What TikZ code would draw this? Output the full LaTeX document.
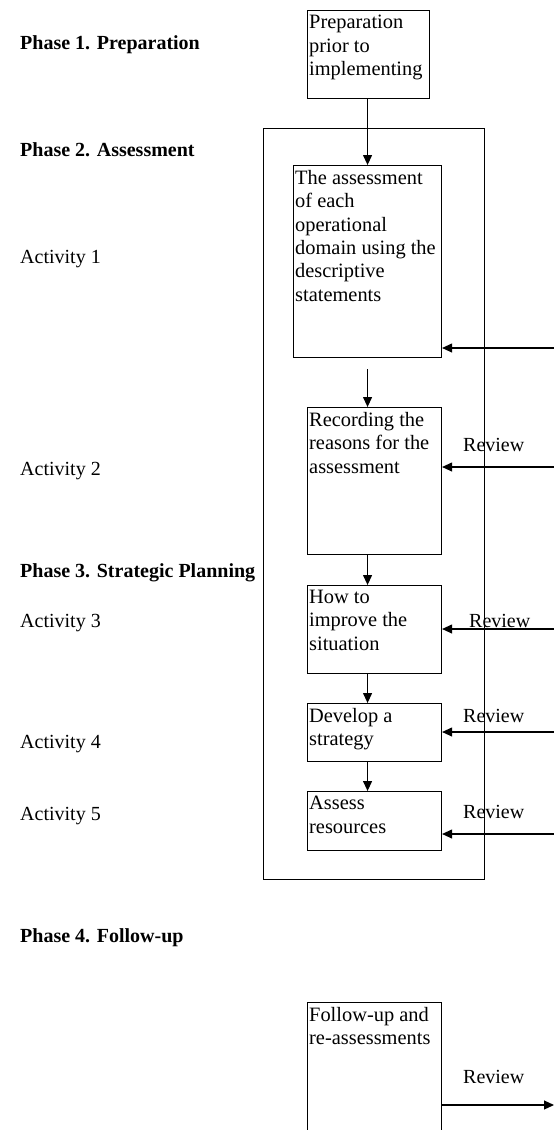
\documentclass[tikz,border=0pt]{standalone}
\usepackage{fontspec}
\setmainfont{Liberation Serif}
\usetikzlibrary{arrows.meta}
\begin{document}
\begin{tikzpicture}[x=1pt, y=-1pt,
    box/.style={draw, line width=1.1pt, inner sep=0pt, anchor=north west},
    boxtext/.style={anchor=north west, align=left, inner sep=0pt, font=\fontsize{20.4}{23.4}\selectfont},
    phase/.style={anchor=base west, inner sep=0pt, font=\bfseries\fontsize{20}{23}\selectfont},
    act/.style={anchor=base west, inner sep=0pt, font=\fontsize{20}{23}\selectfont},
    review/.style={anchor=base west, inner sep=0pt, font=\fontsize{20}{23}\selectfont},
    flow/.style={-{Triangle[length=10pt,width=9pt]}, line width=1.1pt}]
  \useasboundingbox (0,0) rectangle (554,1130);
  \clip (0,0) rectangle (554,1130);

  % left column
  \node[phase] (ph1) at (20,49) {Phase 1. Preparation};
  \node[phase] (ph2) at (20,156) {Phase 2. Assessment};
  \node[act] (act1) at (20,263) {Activity 1};
  \node[act] (act2) at (20,475) {Activity 2};
  \node[phase] (ph3) at (20,577) {Phase 3. Strategic Planning};
  \node[act] (act3) at (20,627) {Activity 3};
  \node[act] (act4) at (20,748) {Activity 4};
  \node[act] (act5) at (20,820) {Activity 5};
  \node[phase] (ph4) at (20,942) {Phase 4. Follow-up};

  % boxes
  \node[box, line width=1.4pt, minimum width=221pt, minimum height=751pt] (frame) at (263,128) {};
  \node[box, minimum width=122pt, minimum height=88pt] (prep) at (307,10) {};
  \node[box, minimum width=148pt, minimum height=192pt] (assess) at (293,165) {};
  \node[box, minimum width=134pt, minimum height=147pt] (record) at (307,407) {};
  \node[box, minimum width=134pt, minimum height=88pt] (improve) at (307,585) {};
  \node[box, minimum width=134pt, minimum height=58pt] (strategy) at (307,703) {};
  \node[box, minimum width=134pt, minimum height=59pt] (resources) at (307,791) {};
  \node[box, minimum width=134pt, minimum height=200pt] (follow) at (307,1002) {};

  \node[boxtext] (prep-t) at ([shift={(2pt,-5pt)}]prep.north west) {Preparation\\prior to\\implementing};
  \node[boxtext] (assess-t) at ([shift={(2pt,-5pt)}]assess.north west) {The assessment\\of each\\operational\\domain using the\\descriptive\\statements};
  \node[boxtext] (record-t) at ([shift={(2pt,-5pt)}]record.north west) {Recording the\\reasons for the\\assessment};
  \node[boxtext] (improve-t) at ([shift={(2pt,-5pt)}]improve.north west) {How to\\improve the\\situation};
  \node[boxtext] (strategy-t) at ([shift={(2pt,-5pt)}]strategy.north west) {Develop a\\strategy};
  \node[boxtext] (resources-t) at ([shift={(2pt,-5pt)}]resources.north west) {Assess\\resources};
  \node[boxtext] (follow-t) at ([shift={(2pt,-5pt)}]follow.north west) {Follow-up and\\re-assessments};

  % flow down the column
  \draw[flow] (prep.south -| assess.north) -- (assess.north);
  \draw[flow] ([yshift=-11pt]assess.south) -- (assess.south |- record.north);
  \draw[flow] (record.south -| assess.south) -- (improve.north -| assess.south);
  \draw[flow] (improve.south -| assess.south) -- (strategy.north -| assess.south);
  \draw[flow] (strategy.south -| assess.south) -- (resources.north -| assess.south);

  % reviews
  \coordinate (in1) at (560,348);
  \coordinate (in2) at (560,467);
  \coordinate (in3) at (560,629);
  \coordinate (in4) at (560,732);
  \coordinate (in5) at (560,834);
  \coordinate (out) at (554,1105);
  \draw[flow] (in1) -- (in1 -| assess.east);
  \draw[flow] (in2) -- (in2 -| record.east);
  \draw[flow] (in3) -- (in3 -| improve.east);
  \draw[flow] (in4) -- (in4 -| strategy.east);
  \draw[flow] (in5) -- (in5 -| resources.east);
  \draw[flow] (out -| follow.east) -- (out);

  \node[review] (rev2) at (463,451) {Review};
  \node[review] (rev3) at (469,627) {Review};
  \node[review] (rev4) at (463,722) {Review};
  \node[review] (rev5) at (463,818) {Review};
  \node[review] (rev6) at (463,1083) {Review};
\end{tikzpicture}
\end{document}
